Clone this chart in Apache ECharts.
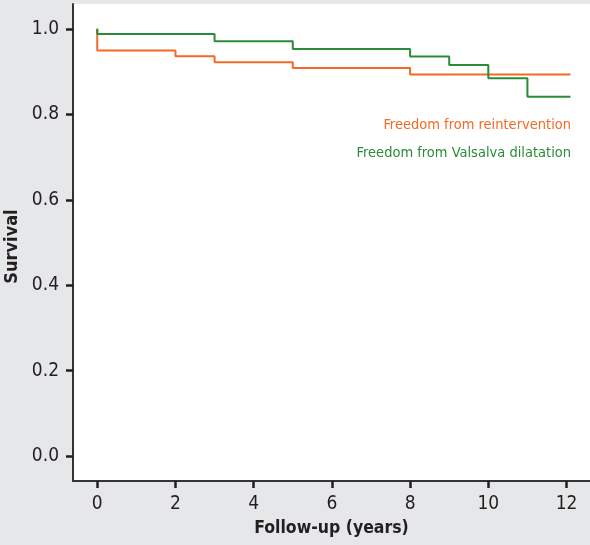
<!DOCTYPE html>
<html>
<head>
<meta charset="utf-8">
<script src="https://cdn.jsdelivr.net/npm/echarts@6/dist/echarts.min.js"></script>
<style>
html,body{margin:0;padding:0;background:#e6e7e9;}
#c{width:590px;height:545px;}
</style>
</head>
<body>
<div id="c"></div>
<script>
// Kaplan-Meier step points [years, survival]
const reinterventionX = [0, 0, 2, 3, 5, 8, 12.1];
const reinterventionY = [1.0, 0.949, 0.936, 0.922, 0.908, 0.893, 0.893];
const valsalvaX = [0, 0, 3, 5, 8, 9, 10, 11, 12.1];
const valsalvaY = [1.0, 0.988, 0.971, 0.953, 0.935, 0.915, 0.884, 0.841, 0.841];
const xTicks = [0, 2, 4, 6, 8, 10, 12];
const yTicks = [0, 0.2, 0.4, 0.6, 0.8, 1.0];
const seriesNames = ['Freedom from reintervention', 'Freedom from Valsalva dilatation'];
const colors = ['#f26a25', '#2a8c38'];

const FONT = '"DejaVu Sans Condensed","Liberation Sans",Arial,sans-serif';
const chart = echarts.init(document.getElementById('c'));
const zip = (xs, ys) => xs.map((x, i) => [x, ys[i]]);
chart.setOption({
  backgroundColor: '#e6e7e9',
  animation: false,
  grid: {left: 73, right: 0, top: 4, bottom: 64, show: true, backgroundColor: '#ffffff', borderWidth: 0,
         containLabel: false, outerBoundsMode: 'none'},
  xAxis: {
    type: 'value', min: -0.62, max: 12.6,
    name: 'Follow-up (years)', nameLocation: 'middle', nameGap: 38,
    nameTextStyle: {fontFamily: FONT, fontWeight: 'bold', fontSize: 17.5, color: '#231f20'},
    axisLine: {onZero: false, lineStyle: {color: '#333333', width: 2}},
    axisTick: {show: true, length: 7, lineStyle: {color: '#231f20', width: 2.5}, customValues: xTicks},
    axisLabel: {customValues: xTicks, fontFamily: FONT, fontSize: 19, color: '#231f20', margin: 14},
    splitLine: {show: false}
  },
  yAxis: {
    type: 'value', min: -0.058, max: 1.058,
    name: 'Survival', nameLocation: 'middle', nameGap: 42, nameRotate: 90,
    nameTextStyle: {fontFamily: FONT, fontWeight: 'bold', fontSize: 18, color: '#231f20', padding: [0, 8, 0, 0]},
    axisLine: {show: true, onZero: false, lineStyle: {color: '#333333', width: 2}},
    axisTick: {show: true, length: 7, lineStyle: {color: '#231f20', width: 2.5}, customValues: yTicks},
    axisLabel: {customValues: yTicks, fontFamily: FONT, fontSize: 19, color: '#231f20', margin: 14,
      formatter: v => v.toFixed(1)},
    splitLine: {show: false}
  },
  series: [
    {name: seriesNames[0], type: 'line', step: 'end', showSymbol: false, data: zip(reinterventionX, reinterventionY),
     lineStyle: {color: colors[0], width: 2}, itemStyle: {color: colors[0]}},
    {name: seriesNames[1], type: 'line', step: 'end', showSymbol: false, data: zip(valsalvaX, valsalvaY),
     lineStyle: {color: colors[1], width: 2}, itemStyle: {color: colors[1]}}
  ],
  graphic: [
    {type: 'text', right: 19, top: 118, style: {text: seriesNames[0], fill: colors[0], font: '14.5px ' + FONT}},
    {type: 'text', right: 19, top: 146, style: {text: seriesNames[1], fill: colors[1], font: '14.5px ' + FONT}}
  ]
});
</script>
</body>
</html>
